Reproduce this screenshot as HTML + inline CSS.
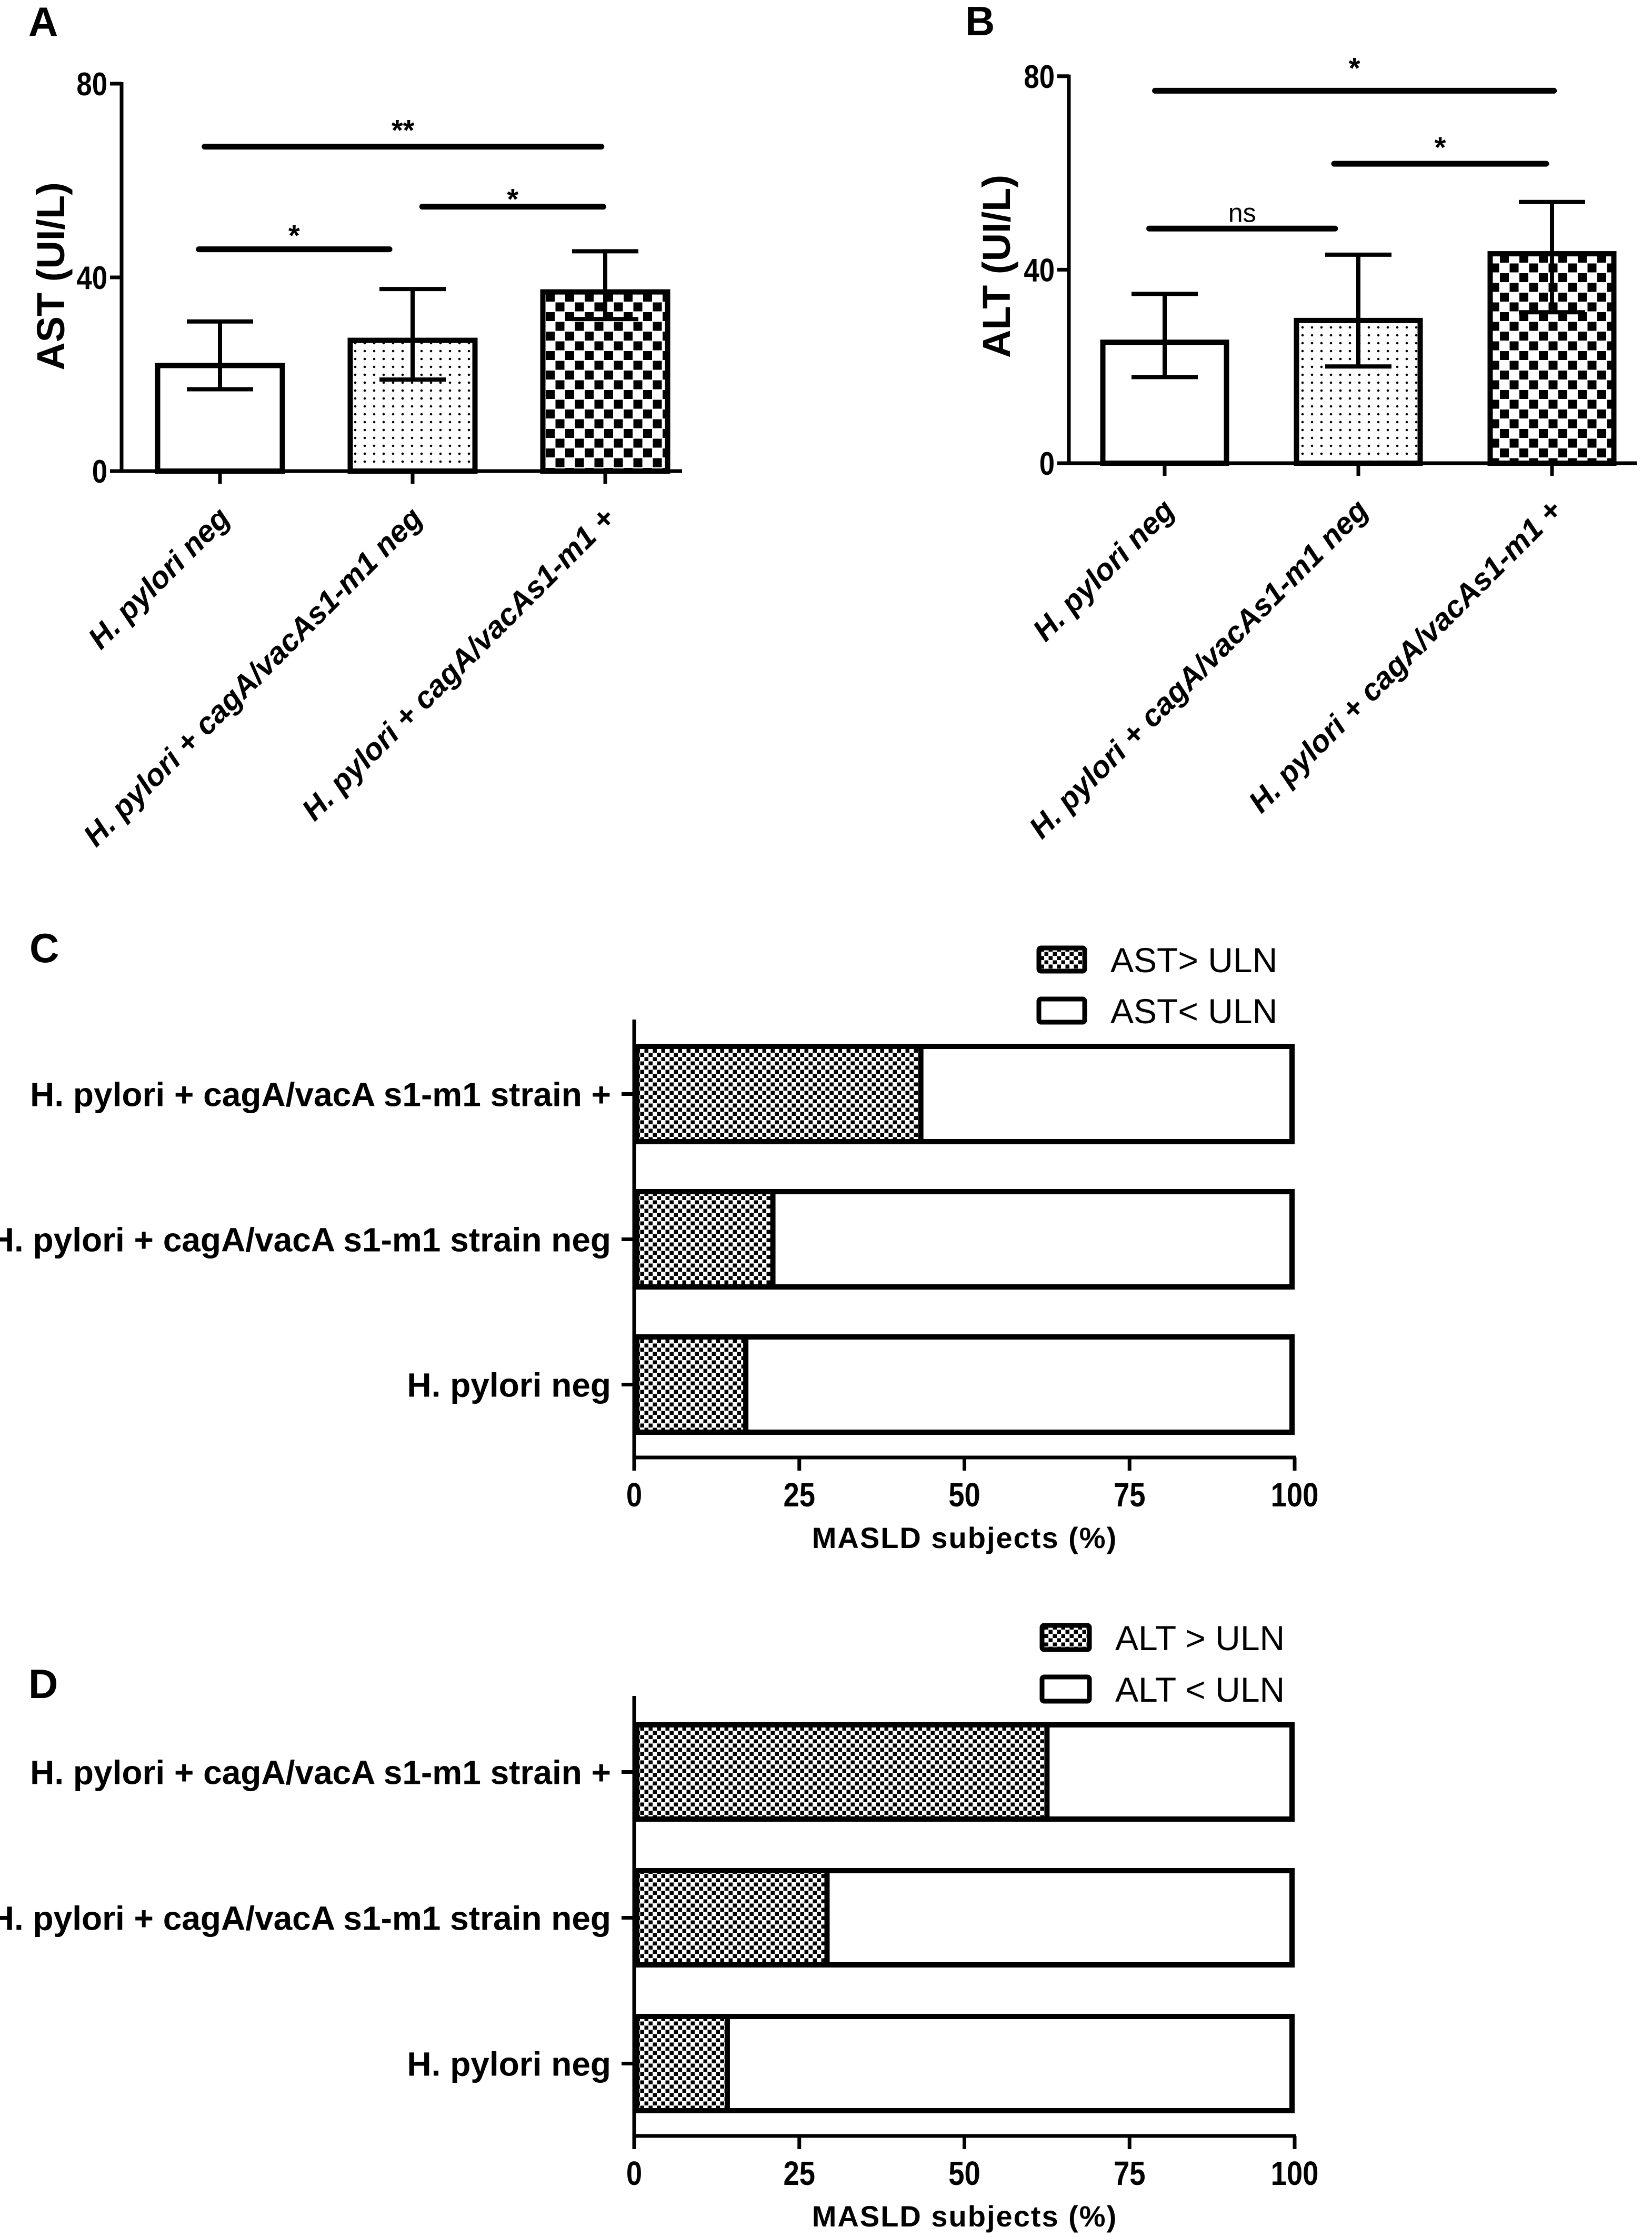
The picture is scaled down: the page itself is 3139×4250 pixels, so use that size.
<!DOCTYPE html>
<html><head><meta charset="utf-8"><style>
html,body{margin:0;padding:0;background:#fff;}
svg{display:block;}
text{font-family:"Liberation Sans",Arial,sans-serif;fill:#000;}
</style></head><body>
<svg id="fig" width="3139" height="4250" viewBox="0 0 3139 4250" xmlns="http://www.w3.org/2000/svg">
<defs>
<pattern id="dots" patternUnits="userSpaceOnUse" width="18" height="15"><rect width="18" height="15" fill="#fff"/><circle cx="9" cy="7" r="2.3" fill="#000"/></pattern>
<pattern id="checkL" patternUnits="userSpaceOnUse" width="37" height="37"><rect width="37" height="37" fill="#fff"/><rect x="1" y="1" width="17" height="17" fill="#000"/><rect x="19.5" y="19.5" width="17" height="17" fill="#000"/></pattern>
<pattern id="checkS" patternUnits="userSpaceOnUse" width="16" height="16"><rect width="16" height="16" fill="#fff"/><rect x="0.5" y="0.5" width="7.5" height="7.5" fill="#000"/><rect x="8.5" y="8.5" width="7.5" height="7.5" fill="#000"/></pattern>
</defs>
</svg>
<script>
// ---------- data ----------
const vCats = ["H. pylori neg", "H. pylori + cagA/vacAs1-m1 neg", "H. pylori + cagA/vacAs1-m1 +"];
const astMeans = [21.8, 27.0, 37.0];
const astErrHi = [30.9, 37.6, 45.4];
const astErrLo = [16.9, 18.9, 31.4];
const altMeans = [25.0, 29.5, 43.3];
const altErrHi = [35.0, 43.1, 54.0];
const altErrLo = [17.8, 20.0, 31.2];
const vTicks = [0, 40, 80];
const astSigFrom = [-0.11, 1.05, -0.08];
const astSigTo = [0.88, 1.99, 1.98];
const astSigY = [45.8, 54.6, 67.0];
const astSigLabel = ["*", "*", "**"];
const altSigFrom = [-0.08, 0.875, -0.05];
const altSigTo = [0.88, 1.97, 2.01];
const altSigY = [48.5, 61.9, 77.0];
const altSigLabel = ["ns", "*", "*"];
const hCats = ["H. pylori + cagA/vacA s1-m1 strain +", "H. pylori + cagA/vacA s1-m1 strain neg", "H. pylori neg"];
const astAbove = [43.4, 21.0, 16.9];
const altAbove = [62.5, 29.2, 14.1];
const hTicks = [0, 25, 50, 75, 100];

const NS = "http://www.w3.org/2000/svg";
const svg = document.getElementById("fig");
function el(tag, parent, attrs) {
  const e = document.createElementNS(NS, tag);
  for (const k in attrs) e.setAttribute(k, attrs[k]);
  parent.appendChild(e);
  return e;
}
function txt(parent, s, attrs) { const t = el("text", parent, attrs); t.textContent = s; return t; }

// ---------- vertical bar panels ----------
function vPanel(L, means, hi, lo, fills, sFrom, sTo, sY, sLab, sGap, letter, yTitle) {
  const g = el("g", svg, {});
  
  
  const y = v => L.y0 - v * L.k;
  const cx = i => L.c0 + i * L.step;
  const lt = txt(g, letter, {x: L.letterX, y: L.letterY, "font-size": 78, "font-weight": "bold"});
  
  
  means.forEach((m, i) => {
    const r = el("rect", g, {x: cx(i) - L.bw / 2 + 5, y: y(m), width: L.bw - 10, height: L.y0 - y(m), fill: fills[i], stroke: "#000", "stroke-width": 10});
    
    
  });
  means.forEach((m, i) => {
    const eg = el("g", g, {stroke: "#000", "stroke-width": 8});
    
    
    el("line", eg, {x1: cx(i), x2: cx(i), y1: y(hi[i]), y2: y(lo[i])});
    el("line", eg, {x1: cx(i) - 63, x2: cx(i) + 63, y1: y(hi[i]), y2: y(hi[i])});
    el("line", eg, {x1: cx(i) - 63, x2: cx(i) + 63, y1: y(lo[i]), y2: y(lo[i])});
  });
  const ya = el("line", g, {x1: L.ax, x2: L.ax, y1: y(80) - 3, y2: L.y0 + 3, stroke: "#000", "stroke-width": 7});
  
  
  const xa = el("line", g, {x1: L.ax, x2: L.xEnd, y1: L.y0, y2: L.y0, stroke: "#000", "stroke-width": 7});
  
  
  vTicks.forEach(t => {
    el("line", g, {x1: L.ax - 22, x2: L.ax, y1: y(t), y2: y(t), stroke: "#000", "stroke-width": 7});
    const tx = L.ax - 27, ty = y(t) + 22;
    const tl = txt(g, String(t), {x: 0, y: 0, "font-size": 62, "font-weight": "bold", "text-anchor": "end", transform: "translate(" + tx + " " + ty + ") scale(0.85 1)"});
    
    
  });
  vCats.forEach((c, i) => {
    el("line", g, {x1: cx(i), x2: cx(i), y1: L.y0, y2: L.y0 + 24, stroke: "#000", "stroke-width": 7});
    const bx = cx(i) + 22, by = L.y0 + 93;
    const cl = txt(g, c, {x: bx, y: by, "font-size": 58, "font-weight": "bold", "font-style": "italic", "text-anchor": "end", transform: "rotate(-45 " + bx + " " + by + ")"});
    
    
  });
  const yt = txt(g, yTitle, {x: L.ytX, y: L.ytY, "font-size": 74, "font-weight": "bold", "text-anchor": "middle", transform: "rotate(-90 " + L.ytX + " " + L.ytY + ")"});
  
  
  sY.forEach((sy, i) => {
    const x1 = cx(sFrom[i]), x2 = cx(sTo[i]);
    const sl = el("line", g, {x1: x1, x2: x2, y1: y(sy), y2: y(sy), stroke: "#000", "stroke-width": 11, "stroke-linecap": "round"});
    
    
    const isNs = sLab[i] === "ns";
    const st = txt(g, sLab[i], {x: (x1 + x2) / 2, y: y(sy) - sGap[i] + (isNs ? 18 : 31), "font-size": isNs ? 50 : 56, "font-weight": isNs ? "normal" : "bold", "text-anchor": "middle"});
    
    
  });
}
vPanel({name: "panel-a-ast-chart", y0: 895, k: 9.2, c0: 418, step: 366, bw: 247, ax: 231, xEnd: 1296, letterX: 54, letterY: 68, ytX: 122, ytY: 525},
  astMeans, astErrHi, astErrLo, ["#fff", "url(#dots)", "url(#checkL)"],
  astSigFrom, astSigTo, astSigY, astSigLabel, [38, 26, 43], "A", "AST (UI/L)");
vPanel({name: "panel-b-alt-chart", y0: 880, k: 9.19, c0: 2213, step: 368, bw: 245, ax: 2031, xEnd: 3110, letterX: 1834, letterY: 67, ytX: 1919, ytY: 506},
  altMeans, altErrHi, altErrLo, ["#fff", "url(#dots)", "url(#checkL)"],
  altSigFrom, altSigTo, altSigY, altSigLabel, [31, 43, 55], "B", "ALT (UI/L)");

// ---------- horizontal stacked panels ----------
function hPanel(L, above, letter, legHi, legLo) {
  const g = el("g", svg, {});
  
  
  const x = v => L.ax + v * L.k;
  const lt = txt(g, letter, {x: L.letterX, y: L.letterY, "font-size": 78, "font-weight": "bold"});
  
  
  hCats.forEach((c, i) => {
    const top = L.top0 + i * L.step;
    const w = el("rect", g, {x: x(0) + 5, y: top + 5, width: x(100) - x(0) - 10, height: L.h - 10, fill: "#fff", stroke: "#000", "stroke-width": 10});
    
    
    const a = el("rect", g, {x: x(0) + 5, y: top + 5, width: x(above[i]) - x(0) - 5, height: L.h - 10, fill: "url(#checkS)", stroke: "#000", "stroke-width": 10});
    
    
    const cy = top + L.h / 2;
    el("line", g, {x1: L.ax - 24, x2: L.ax, y1: cy, y2: cy, stroke: "#000", "stroke-width": 7});
    const cl = txt(g, c, {x: L.ax - 44, y: cy + 23, "font-size": 64, "font-weight": "bold", "text-anchor": "end"});
    
    
  });
  const ya = el("line", g, {x1: L.ax, x2: L.ax, y1: L.yTop, y2: L.xAxisY + 3, stroke: "#000", "stroke-width": 7});
  
  
  const xa = el("line", g, {x1: L.ax - 3, x2: x(100) + 3, y1: L.xAxisY, y2: L.xAxisY, stroke: "#000", "stroke-width": 7});
  
  
  hTicks.forEach(t => {
    el("line", g, {x1: x(t), x2: x(t), y1: L.xAxisY, y2: L.xAxisY + 25, stroke: "#000", "stroke-width": 7});
    const tx = x(t), ty = L.xAxisY + 93;
    const tl = txt(g, String(t), {x: 0, y: 0, "font-size": 64, "font-weight": "bold", "text-anchor": "middle", transform: "translate(" + tx + " " + ty + ") scale(0.85 1)"});
    
    
  });
  const xt = txt(g, "MASLD subjects (%)", {x: 1833, y: L.xAxisY + 172, "font-size": 56, "font-weight": "bold", "text-anchor": "middle", "letter-spacing": 2});
  
  
  const lg = el("g", g, {});
  
  
  const b1 = el("rect", lg, {x: L.legX + 4, y: L.legY1 + 4, width: L.legW - 8, height: L.legH - 8, rx: 4, fill: "url(#checkS)", stroke: "#000", "stroke-width": 9});
  
  
  const t1 = txt(lg, legHi, {x: L.legTX, y: L.legY1 + L.legH / 2 + 24, "font-size": 66});
  
  
  const b2 = el("rect", lg, {x: L.legX + 4, y: L.legY2 + 4, width: L.legW - 8, height: L.legH - 8, rx: 4, fill: "#fff", stroke: "#000", "stroke-width": 9});
  
  
  const t2 = txt(lg, legLo, {x: L.legTX, y: L.legY2 + L.legH / 2 + 24, "font-size": 66});
  
  
}
hPanel({name: "panel-c-ast-uln-chart", ax: 1205, k: 12.55, top0: 1983, step: 276, h: 191, yTop: 1937, xAxisY: 2769, letterX: 56, letterY: 1828,
  legX: 1970, legW: 95, legH: 52, legY1: 1797, legY2: 1894, legTX: 2110}, astAbove, "C", "AST> ULN", "AST< ULN");
hPanel({name: "panel-d-alt-uln-chart", ax: 1205, k: 12.55, top0: 3272, step: 277, h: 189, yTop: 3222, xAxisY: 4058, letterX: 54, letterY: 3226,
  legX: 1976, legW: 98, legH: 54, legY1: 3084, legY2: 3182, legTX: 2119}, altAbove, "D", "ALT > ULN", "ALT < ULN");
</script>
</body></html>
